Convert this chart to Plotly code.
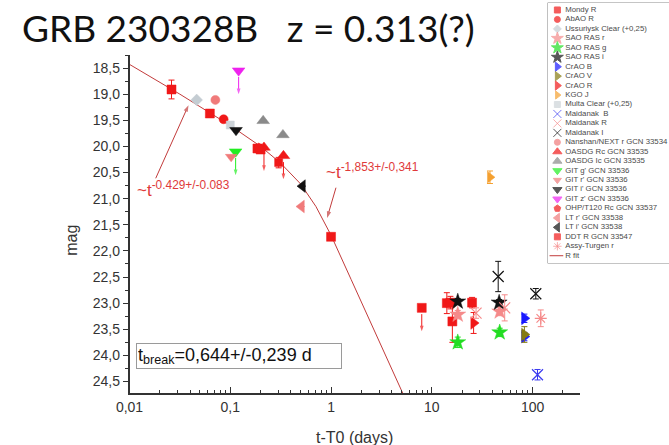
import math
import plotly.graph_objects as go

W, H = 669, 445

# ---------------- data ----------------
mondy_t   = [0.0261, 0.0627, 0.186, 0.200, 1.0, 7.95, 14.1, 15.3, 16.0, 25.1]
mondy_mag = [18.91, 19.37, 20.04, 20.06, 21.73, 23.09, 23.00, 22.99, 23.35, 22.99]
mondy_err = [0.18, 0.05, 0.05, 0.05, 0.05, 0.0, 0.20, 0.12, 0.40, 0.10]
mondy_ul  = [0, 0, 0, 0, 0, 1, 0, 0, 0, 0]

abao_t, abao_mag, abao_err = [0.0859], [19.48], [0.05]
ussur_t, ussur_mag, ussur_err = [0.0464], [19.11], [0.0]
sao_r_t, sao_r_mag, sao_r_err = [18.1, 47.2], [23.22, 23.16], [0.08, 0.08]
sao_g_t, sao_g_mag, sao_g_err = [18.1, 47.2], [23.75, 23.56], [0.10, 0.08]
sao_i_t, sao_i_mag, sao_i_err = [18.1, 46.6], [22.97, 22.99], [0.06, 0.06]
crao_b_t, crao_b_mag, crao_b_err = [83.0, 83.0], [23.29, 23.64], [0.08, 0.08]
crao_v_t, crao_v_mag, crao_v_err = [83.0], [23.60], [0.15]
crao_r_t, crao_r_mag, crao_r_err = [26.0], [23.38], [0.20]
kgo_t, kgo_mag, kgo_err = [37.8], [20.59], [0.12]
multa_t, multa_mag, multa_err = [0.100], [19.59], [0.0]
maid_b_t, maid_b_mag, maid_b_err = [112.0], [24.37], [0.10]
maid_r_t, maid_r_mag, maid_r_err = [27.5, 52.9], [23.19, 23.09], [0.10, 0.25]
maid_i_t, maid_i_mag, maid_i_err = [45.6, 107.7], [22.49, 22.82], [0.29, 0.10]
nanshan_t, nanshan_mag, nanshan_err = [0.0711], [19.11], [0.04]
oasdg_rc_t, oasdg_rc_mag, oasdg_rc_ul = [0.216, 0.337], [20.02, 20.18], [1, 1]
oasdg_ic_t, oasdg_ic_mag = [0.212, 0.333], [19.51, 19.78]
git_g_t, git_g_mag, git_g_ul = [0.113], [20.10], [1]
git_r_t, git_r_mag = [0.102], [20.20]
git_i_t, git_i_mag = [0.114], [19.69]
git_z_t, git_z_mag, git_z_ul = [0.121], [18.55], [1]
ohp_t, ohp_mag = [0.192], [20.03]
lt_r_t, lt_r_mag = [0.509], [21.15]
lt_i_t, lt_i_mag = [0.521], [20.76]
ddt_t, ddt_mag, ddt_err = [0.302], [20.31], [0.10]
assy_t, assy_mag, assy_err = [120.6], [23.29], [0.16]

# R-band fit curve
fit_t   = [0.01, 0.0316, 0.1, 0.2, 0.316, 0.5, 0.708, 1.0, 1.585, 2.51, 3.98, 6.31]
fit_mag = [18.43, 19.00, 19.60, 20.00, 20.32, 20.72, 21.15, 21.70, 22.55, 23.40, 24.25, 25.10]

# pointer arrows of the two slope labels: (tail t, tail mag) -> (head t, head mag)
ptr1_t, ptr1_mag = [0.0182, 0.0385], [20.61, 19.21]
ptr2_t, ptr2_mag = [1.119, 0.914], [20.79, 21.37]

x_tickvals = [0.01, 0.1, 1, 10, 100]
x_ticktext = ["0,01", "0,1", "1", "10", "100"]
y_tickvals = [18.5, 19.0, 19.5, 20.0, 20.5, 21.0, 21.5, 22.0, 22.5, 23.0, 23.5, 24.0, 24.5]
y_ticktext = ["18,5", "19,0", "19,5", "20,0", "20,5", "21,0", "21,5", "22,0", "22,5",
              "23,0", "23,5", "24,0", "24,5"]

legend_names = ["Mondy R", "AbAO R", "Ussuriysk Clear (+0,25)", "SAO RAS r", "SAO RAS g",
                "SAO RAS i", "CrAO B", "CrAO V", "CrAO R", "KGO J", "Multa Clear (+0,25)",
                "Maidanak  B", "Maidanak R", "Maidanak I", "Nanshan/NEXT r GCN 33534",
                "OASDG Rc GCN 33535", "OASDG Ic GCN 33535", "GIT g' GCN 33536",
                "GIT r' GCN 33536", "GIT i' GCN 33536", "GIT z' GCN 33536",
                "OHP/T120 Rc GCN 33537", "LT r' GCN 33538", "LT i' GCN 33538",
                "DDT R GCN 33547", "Assy-Turgen r", "R fit"]

# ---------------- styles ----------------
RED = "#f01818"
PINK = "#f58a8a"
SALMON = "#f07a7a"
FITC = "#c23b3b"
UL_LEN = 0.45

def z(n):
    return [0.0] * n

# (t, mag, err, upper-limit flags, symbol, color, size)
series = [
    (mondy_t, mondy_mag, mondy_err, mondy_ul, "square", RED, 9),
    (abao_t, abao_mag, abao_err, None, "circle", RED, 9),
    (ussur_t, ussur_mag, ussur_err, None, "diamond", "#c4ccd2", 9),
    (sao_r_t, sao_r_mag, sao_r_err, None, "star", PINK, 12),
    (sao_g_t, sao_g_mag, sao_g_err, None, "star", "#22dd22", 12),
    (sao_i_t, sao_i_mag, sao_i_err, None, "star", "#111111", 12),
    (crao_b_t, crao_b_mag, crao_b_err, None, "triangle-right", "#1a1aff", 11),
    (crao_v_t, crao_v_mag, crao_v_err, None, "triangle-right", "#857a10", 11),
    (crao_r_t, crao_r_mag, crao_r_err, None, "triangle-right", RED, 11),
    (kgo_t, kgo_mag, kgo_err, None, "triangle-right", "#f5a030", 10),
    (multa_t, multa_mag, multa_err, None, "square", "#cdd3d8", 8),
    (maid_b_t, maid_b_mag, maid_b_err, None, "x-thin-open", "#3a3af0", 11),
    (maid_r_t, maid_r_mag, maid_r_err, None, "x-thin-open", PINK, 11),
    (maid_i_t, maid_i_mag, maid_i_err, None, "x-thin-open", "#111111", 11),
    (nanshan_t, nanshan_mag, nanshan_err, None, "circle", SALMON, 9),
    (oasdg_rc_t, oasdg_rc_mag, z(2), oasdg_rc_ul, "triangle-up", RED, 11),
    (oasdg_ic_t, oasdg_ic_mag, z(2), None, "triangle-up", "#8a8a8a", 11),
    (git_g_t, git_g_mag, z(1), git_g_ul, "triangle-down", "#22ee22", 11),
    (git_r_t, git_r_mag, z(1), None, "triangle-down", SALMON, 10),
    (git_i_t, git_i_mag, z(1), None, "triangle-down", "#111111", 11),
    (git_z_t, git_z_mag, z(1), git_z_ul, "triangle-down", "#ee22ee", 11),
    (ohp_t, ohp_mag, z(1), None, "pentagon", RED, 10),
    (lt_r_t, lt_r_mag, z(1), None, "triangle-left", SALMON, 11),
    (lt_i_t, lt_i_mag, z(1), None, "triangle-left", "#111111", 11),
    (ddt_t, ddt_mag, ddt_err, None, "square", RED, 8),
    (assy_t, assy_mag, assy_err, None, "asterisk-open", PINK, 10),
]

fig = go.Figure()

# fit line
fig.add_trace(go.Scatter(x=fit_t, y=fit_mag, mode="lines",
                         line=dict(color=FITC, width=1),
                         showlegend=False, hoverinfo="skip"))


def arrow_trace(xs, ys, col, size=7):
    return go.Scatter(x=xs, y=ys, mode="lines+markers",
                      line=dict(color=col, width=1),
                      marker=dict(symbol="arrow", size=[0] * (len(xs) - 1) + [size],
                                  color=col, angleref="previous", line=dict(width=0)),
                      showlegend=False, hoverinfo="skip")


for t, m, e, ul, sym, col, size in series:
    opened = sym.endswith("open")
    fig.add_trace(go.Scatter(
        x=t, y=m, mode="markers",
        marker=dict(symbol=sym, color=col, size=size,
                    line=dict(color=col, width=1.2 if opened else 0.5)),
        error_y=dict(type="data", array=e, visible=True, color=col,
                     thickness=1, width=3),
        showlegend=False))
    if ul:
        for ti, mi, flag in zip(t, m, ul):
            if flag:
                fig.add_trace(arrow_trace([ti, ti], [mi + 0.12, mi + UL_LEN], col, 6))

fig.add_trace(arrow_trace(ptr1_t, ptr1_mag, FITC, 7))
fig.add_trace(arrow_trace(ptr2_t, ptr2_mag, FITC, 7))

# ---------------- inset legend (drawn in its own small axes) ----------------
n_leg = len(series)
fig.add_trace(go.Scatter(
    x=[10] * n_leg, y=list(range(n_leg)), mode="markers",
    marker=dict(symbol=[s[4] for s in series], color=[s[5] for s in series],
                size=[max(6, s[6] - 3) for s in series],
                line=dict(color=[s[5] for s in series], width=1)),
    xaxis="x2", yaxis="y2", showlegend=False, hoverinfo="skip"))
fig.add_trace(go.Scatter(
    x=[2, 16], y=[n_leg, n_leg], mode="lines", line=dict(color=FITC, width=1),
    xaxis="x2", yaxis="y2", showlegend=False, hoverinfo="skip"))
fig.add_trace(go.Scatter(
    x=[18] * len(legend_names), y=list(range(len(legend_names))), mode="text",
    text=legend_names, textposition="middle right",
    textfont=dict(family="Liberation Sans", size=7.8, color="#4a4a4a"),
    xaxis="x2", yaxis="y2", showlegend=False, hoverinfo="skip", cliponaxis=False))

# ---------------- layout ----------------
px = lambda v: v / W
py = lambda v: 1 - v / H

minor_x = [k * 10 ** n for n in range(-2, 3) for k in range(2, 10) if k * 10 ** n < 290]

axis_font = dict(family="Liberation Sans", size=14, color="#333333")

fig.update_layout(
    width=W, height=H, margin=dict(l=0, r=0, t=0, b=0),
    paper_bgcolor="white", plot_bgcolor="white",
    xaxis=dict(type="log", range=[-2.0, 2.47], domain=[px(118), px(578)],
               showgrid=False, zeroline=False, showline=True, linecolor="#333333",
               linewidth=1.5, ticks="inside", ticklen=6, tickwidth=1.2,
               tickcolor="#333333", tickvals=x_tickvals, ticktext=x_ticktext,
               tickfont=axis_font, anchor="y",
               minor=dict(ticks="inside", ticklen=3, tickwidth=1,
                          tickcolor="#333333", tickvals=minor_x)),
    yaxis=dict(range=[24.72, 18.25], domain=[py(393), py(55)],
               showgrid=False, zeroline=False, showline=True, linecolor="#333333",
               linewidth=1.5, ticks="outside", ticklen=5, tickwidth=1.2,
               tickcolor="#333333", tickvals=y_tickvals, ticktext=y_ticktext,
               tickfont=axis_font, anchor="x",
               minor=dict(ticks="outside", ticklen=3, tickwidth=1,
                          tickcolor="#333333", dtick=0.25, tick0=18.5)),
    xaxis2=dict(domain=[px(545), 1.0], range=[0, 124], visible=False, anchor="y2"),
    yaxis2=dict(domain=[py(263), py(3)], range=[26.77, -0.74], visible=False, anchor="x2"),
    shapes=[dict(type="rect", xref="paper", yref="paper",
                 x0=px(545), x1=1.02, y0=py(263), y1=py(3),
                 line=dict(color="#8a8a8a", width=1), fillcolor="rgba(0,0,0,0)",
                 layer="below")],
)

annotations = [
    dict(text="GRB 230328B\u00a0\u00a0\u00a0z = 0.313(?)", xref="paper", yref="paper",
         x=px(6), y=py(28), xanchor="left", yanchor="middle", showarrow=False,
         font=dict(family="Lato", size=37, color="#111111")),
    dict(text="mag", xref="paper", yref="paper", x=px(58), y=py(240),
         xanchor="center", yanchor="middle", textangle=-90, showarrow=False,
         font=dict(family="Liberation Sans", size=16, color="#333333")),
    dict(text="t-T0 (days)", xref="paper", yref="paper", x=px(348), y=py(437),
         xanchor="center", yanchor="middle", showarrow=False,
         font=dict(family="Liberation Sans", size=16, color="#333333")),
    dict(text="t<sub>break</sub>=0,644+/-0,239 d", xref="paper", yref="paper",
         x=px(125), y=py(343), xanchor="left", yanchor="top", showarrow=False,
         width=202, height=22, align="left", bordercolor="#9a9a9a", borderwidth=1,
         borderpad=1, bgcolor="white",
         font=dict(family="Liberation Sans", size=18, color="#111111")),
    dict(text="~t<sup>-0.429+/-0.083</sup>", xref="paper", yref="paper",
         x=px(124), y=py(189), xanchor="left", yanchor="middle", showarrow=False,
         font=dict(family="Liberation Sans", size=17, color="#e03a3a")),
    dict(text="~t<sup>-1,853+/-0,341</sup>", xref="paper", yref="paper",
         x=px(317), y=py(171), xanchor="left", yanchor="middle", showarrow=False,
         font=dict(family="Liberation Sans", size=17, color="#e03a3a")),
]
fig.update_layout(annotations=annotations)

fig.write_html("out.html")
